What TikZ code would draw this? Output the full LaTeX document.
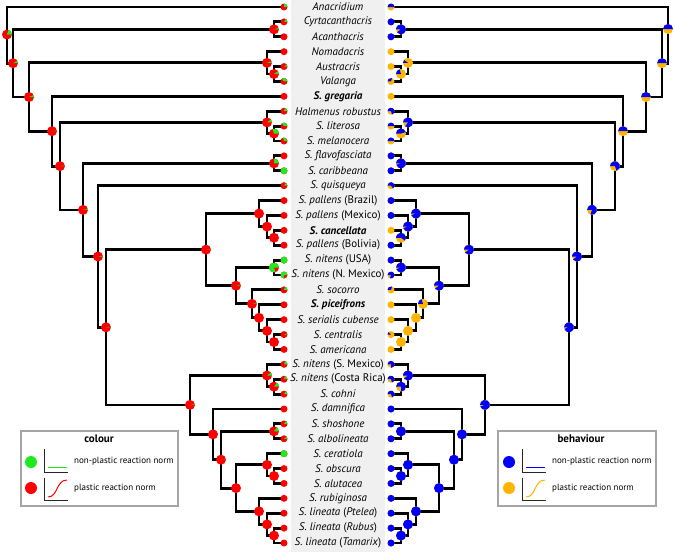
\documentclass[tikz,border=0pt]{standalone}
\usepackage{fontspec}
\setmainfont{PT Sans}
\definecolor{cred}{RGB}{255,0,0}
\definecolor{cgreen}{RGB}{30,235,30}
\definecolor{cblue}{RGB}{0,0,255}
\definecolor{corange}{RGB}{255,180,0}
\definecolor{band}{RGB}{240,240,240}
\definecolor{legframe}{RGB}{165,165,165}
\newcommand\gpie[3]{%
  \fill[cred] (#1) circle[radius=#2];
  \ifdim #3pt>0pt
    \fill[cgreen] (#1) -- ++(0:#2) arc[start angle=0,end angle={360*#3},radius=#2] -- cycle;
  \fi}
\newcommand\bpie[3]{%
  \fill[corange] (#1) circle[radius=#2];
  \ifdim #3pt>0pt
    \fill[cblue] (#1) -- ++({180-360*#3}:#2) arc[start angle={180-360*#3},end angle=180,radius=#2] -- cycle;
  \fi}
\def\innerlist{root/7/34.5/0.2/0.5,n2/13/63.2/0.08/0.5,c1/274/29.35/0.05/0.9,n3/29/97.0/0.06/0.5,N1/267/62.85/0.05/0.1,c2/274/74.0/0.1/0.2,n4/52/131.2/0.02/0.5,n5/60/166.15/0.02/0.7,H1/267/122.4/0.1/0.85,c3/274/133.55/0.3/0.45,n6/83/209.9/0.03/0.8,c4/274/163.35/0.25/0.95,n7/98/256.5/0.02/0.9,n8/106/327.3/0.02/0.95,n9/206/249.65/0.01/0.9,P1/259/213.6/0/0.95,P2/267/226.6/0/0.95,c5/274/237.75/0/0.6,n11/236/285.7/0.03/0.9,c6/274/267.55/0.8/0.95,Q1/252/303.85/0.02/0.2,Q2/259/317.8/0/0,Q3/267/330.85/0/0,c7/274/342.0/0/0,n10/190/404.9/0.02/0.95,R1/267/375.5/0.1/0.9,c8/274/386.65/0.15/0.75,n12/213/434.35/0/1,n13/221/459.7/0.01/1,c9/274/431.35/0.15/1,n14/236/488.1/0/1,T1/267/464.85/0/1,c10/274/476.0/0/1,T2/259/511.35/0/1,T3/267/524.4/0/1,c11/274/535.55/0/1}
\begin{document}
\begin{tikzpicture}[x=1pt,y=1pt,
  branch/.style={line width=2.8pt,black},
  lab/.style={font=\fontsize{11}{12}\selectfont,inner sep=0pt,anchor=center},
  legbox/.style={draw=legframe,line width=1.2pt,fill=white},
  legtitle/.style={font=\fontsize{11}{12}\selectfont\bfseries,inner sep=0pt},
  legtext/.style={font=\fontsize{9}{11}\selectfont,inner sep=0pt,anchor=west},
  axisline/.style={line width=1pt,black!85},
  normline/.style={line width=1pt}]
\useasboundingbox (0,0) rectangle (675,-552);
\fill[white] (0,0) rectangle (675,-552);
\fill[band] (291,0) rectangle (385,-552);
% tips
\foreach \i in {0,...,36}{
  \coordinate (Lt\i) at (284,{-(7+14.889*\i)});
  \coordinate (Rt\i) at (391,{-(7+14.889*\i)});
}
% internal nodes
\foreach \n/\x/\y/\fg/\fb in \innerlist{
  \coordinate (L\n) at (\x,-\y);
  \coordinate (R\n) at ({675-\x},-\y);
}
\coordinate (Rroot) at (668,-29);
% branches
\foreach \p/\c in {root/t0,root/n2,n2/c1,n2/n3,c1/t1,c1/t2,n3/N1,n3/n4,N1/t3,N1/c2,c2/t4,c2/t5,n4/t6,n4/n5,n5/H1,n5/n6,H1/t7,H1/c3,c3/t8,c3/t9,n6/c4,n6/n7,c4/t10,c4/t11,n7/t12,n7/n8,n8/n9,n8/n10,n9/P1,n9/n11,P1/t13,P1/P2,P2/t14,P2/c5,c5/t15,c5/t16,n11/c6,n11/Q1,c6/t17,c6/t18,Q1/t19,Q1/Q2,Q2/t20,Q2/Q3,Q3/t21,Q3/c7,c7/t22,c7/t23,n10/R1,n10/n12,R1/t24,R1/c8,c8/t25,c8/t26,n12/t27,n12/n13,n13/c9,n13/n14,c9/t28,c9/t29,n14/T1,n14/T2,T1/t30,T1/c10,c10/t31,c10/t32,T2/t33,T2/T3,T3/t34,T3/c11,c11/t35,c11/t36}{
  \draw[branch] (L\p) |- (L\c);
  \draw[branch] (R\p) |- (R\c);
}
% internal pies
\foreach \n/\x/\y/\fg/\fb in \innerlist{
  \gpie{L\n}{5}{\fg}
  \bpie{R\n}{5}{\fb}
}
% tip pies and labels
\foreach \i/\lab/\fg/\fb in {
0/{\textit{Anacridium}}/0.25/0.5,
1/{\textit{Cyrtacanthacris}}/0.15/1,
2/{\textit{Acanthacris}}/0/1,
3/{\textit{Nomadacris}}/0/0,
4/{\textit{Austracris}}/0.1/0,
5/{\textit{Valanga}}/0.35/0.3,
6/{\textbf{\textit{S. gregaria}}}/0/0,
7/{\textit{Halmenus robustus}}/0.2/0.7,
8/{\textit{S. literosa}}/0.35/0.5,
9/{\textit{S. melanocera}}/0.3/0.5,
10/{\textit{S. flavofasciata}}/0/1,
11/{\textit{S. caribbeana}}/1/1,
12/{\textit{S. quisqueya}}/0.15/0.65,
13/{\textit{S. pallens} (Brazil)}/0/1,
14/{\textit{S. pallens} (Mexico)}/0/1,
15/{\textbf{\textit{S. cancellata}}}/0/0,
16/{\textit{S. pallens} (Bolivia)}/0/1,
17/{\textit{S. nitens} (USA)}/1/1,
18/{\textit{S. nitens} (N. Mexico)}/0.75/0.8,
19/{\textit{S. socorro}}/0.2/0.3,
20/{\textbf{\textit{S. piceifrons}}}/0/0,
21/{\textit{S. serialis cubense}}/0/0,
22/{\textit{S. centralis}}/0.05/0.12,
23/{\textit{S. americana}}/0/0,
24/{\textit{S. nitens} (S. Mexico)}/0.2/0.75,
25/{\textit{S. nitens} (Costa Rica)}/0.2/0.7,
26/{\textit{S. cohni}}/0.15/0.7,
27/{\textit{S. damnifica}}/0/1,
28/{\textit{S. shoshone}}/0.15/1,
29/{\textit{S. albolineata}}/0.1/1,
30/{\textit{S. ceratiola}}/1/1,
31/{\textit{S. obscura}}/0/1,
32/{\textit{S. alutacea}}/0/1,
33/{\textit{S. rubiginosa}}/0/1,
34/{\textit{S. lineata} (\textit{Ptelea})}/0/1,
35/{\textit{S. lineata} (\textit{Rubus})}/0/1,
36/{\textit{S. lineata} (\textit{Tamarix})}/0/1}{
  \gpie{Lt\i}{3.5}{\fg}
  \bpie{Rt\i}{3.5}{\fb}
  \node[lab] (lab\i) at (338,{-(7+14.889*\i)}) {\lab};
}
% legend: colour
\draw[legbox] (21,-431) rectangle (178,-506);
\node[legtitle] (legCt) at (99,-439) {colour};
\fill[cgreen] (31,-462) circle[radius=6];
\fill[cred] (31,-488) circle[radius=6];
\draw[axisline] (44,-449) |- (68,-472);
\draw[normline,cgreen] (48,-467) -- (67,-467);
\draw[axisline] (44,-478) |- (68,-500);
\draw[normline,cred] (48,-497) .. controls (58,-497) and (56,-480) .. (67,-480);
\node[legtext] (legC1) at (74,-461) {non-plastic reaction norm};
\node[legtext] (legC2) at (74,-488) {plastic reaction norm};
% legend: behaviour
\draw[legbox] (498,-431) rectangle (656,-506);
\node[legtitle] (legBt) at (581,-439) {behaviour};
\fill[cblue] (509,-462) circle[radius=6];
\fill[corange] (509,-488) circle[radius=6];
\draw[axisline] (522,-449) |- (546,-472);
\draw[normline,cblue] (526,-467) -- (545,-467);
\draw[axisline] (522,-478) |- (546,-500);
\draw[normline,corange] (526,-497) .. controls (536,-497) and (534,-480) .. (545,-480);
\node[legtext] (legB1) at (552,-461) {non-plastic reaction norm};
\node[legtext] (legB2) at (552,-488) {plastic reaction norm};
\end{tikzpicture}
\end{document}
